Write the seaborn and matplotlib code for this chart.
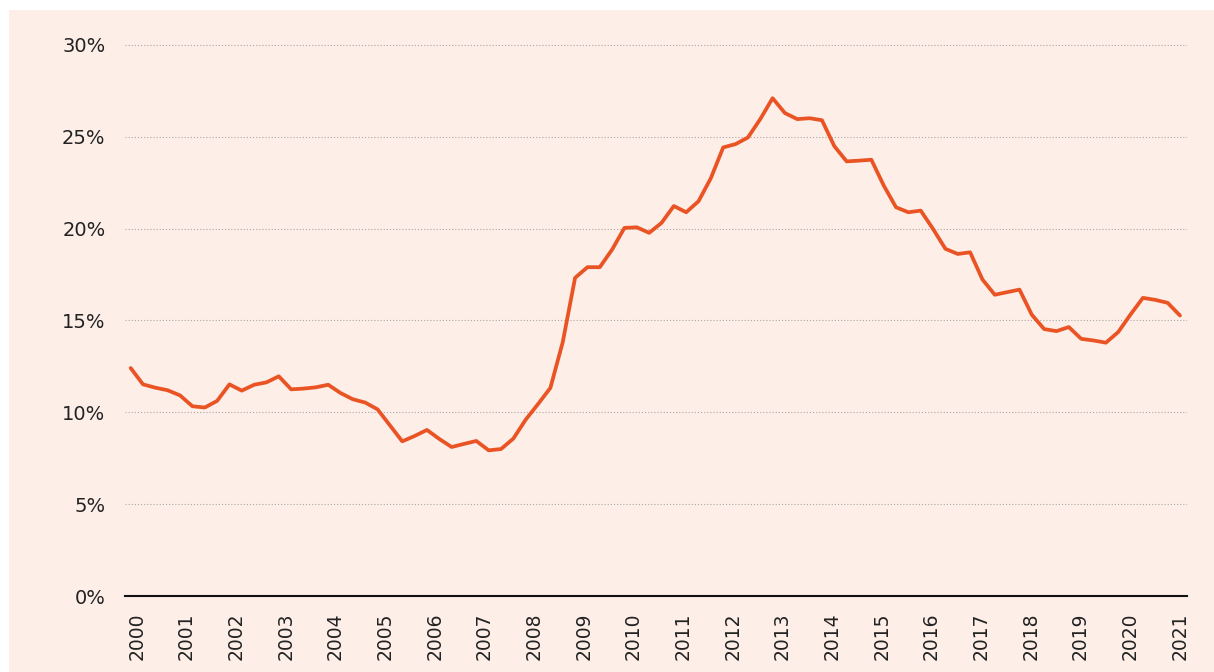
import numpy as np
import pandas as pd
import matplotlib.pyplot as plt
import seaborn as sns
from matplotlib.patches import Rectangle

# Quarterly share (%), 2000 Q1 .. 2021 Q2
share = [12.41, 11.52, 11.34, 11.20, 10.92, 10.33, 10.26, 10.62,
         11.52, 11.18, 11.50, 11.63, 11.96, 11.25, 11.29, 11.36,
         11.50, 11.05, 10.71, 10.53, 10.16, 9.29, 8.42, 8.71,
         9.04, 8.55, 8.11, 8.28, 8.44, 7.93, 8.00, 8.57,
         9.60, 10.45, 11.33, 13.82, 17.32, 17.90, 17.90, 18.86,
         20.04, 20.07, 19.77, 20.31, 21.23, 20.89, 21.49, 22.75,
         24.42, 24.60, 24.96, 25.96, 27.10, 26.29, 25.96, 26.01,
         25.90, 24.49, 23.66, 23.70, 23.75, 22.35, 21.16, 20.89,
         20.98, 19.98, 18.90, 18.62, 18.71, 17.23, 16.40, 16.54,
         16.68, 15.31, 14.53, 14.42, 14.64, 14.00, 13.91, 13.79,
         14.37, 15.33, 16.23, 16.12, 15.96, 15.27]
years = [str(y) for y in range(2000, 2022)]
y_ticks = [0, 5, 10, 15, 20, 25, 30]

df = pd.DataFrame({"q": np.arange(len(share)), "share": share})

bg = "#fdeee8"
line_col = "#ea5424"

sns.set_theme(style="white")
plt.rcParams['font.family'] = ['DejaVu Sans']

fig = plt.figure(figsize=(12.14, 6.72), dpi=100, facecolor="white")
fig.patches.append(Rectangle((9 / 1214, 0), 1, 662 / 672, transform=fig.transFigure,
                             facecolor=bg, edgecolor="none", zorder=-10))
ax = fig.add_axes([125 / 1214, 1 - 596 / 672, (1187 - 125) / 1214, (596 - 44) / 672])
ax.set_facecolor(bg)

sns.lineplot(data=df, x="q", y="share", ax=ax, color=line_col, linewidth=2.7)

ax.set_xlim(-0.46, 85.57)
ax.set_ylim(0, 30.05)
ax.set_yticks(y_ticks)
ax.set_yticklabels([f"{v}%" for v in y_ticks], fontsize=14, color="#222222")
ax.set_xticks(np.linspace(0.5, 85, len(years)))
ax.set_xticklabels(years, rotation=90, fontsize=13.5, color="#222222")
ax.tick_params(axis="x", length=0, pad=12)
ax.tick_params(axis="y", length=0, pad=14)

# dotted horizontal guides
for v in y_ticks[1:]:
    ax.axhline(v, color="#a8a8a8", linestyle=(0, (1, 1.8)), linewidth=0.8, zorder=0)

for s in ["top", "right", "left"]:
    ax.spines[s].set_visible(False)
ax.spines["bottom"].set_color("#111111")
ax.spines["bottom"].set_linewidth(1.5)
ax.set_xlabel("")
ax.set_ylabel("")

fig.savefig("out.png", dpi=100, facecolor=fig.get_facecolor())
